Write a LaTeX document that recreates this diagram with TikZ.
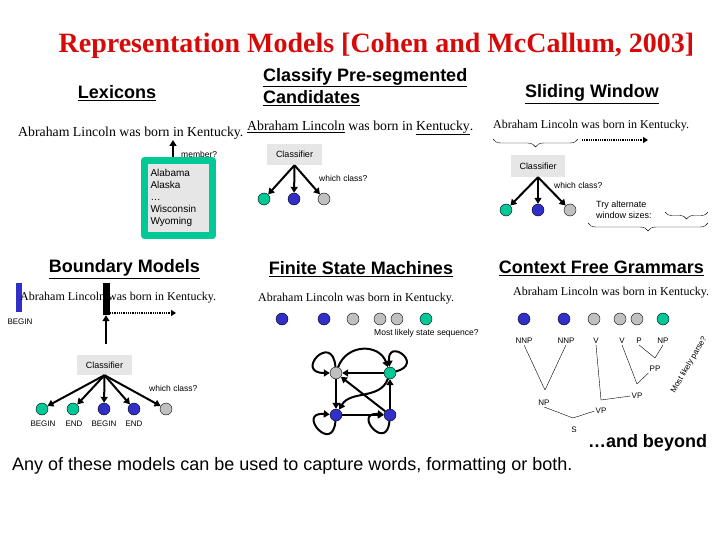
\documentclass[tikz,border=0pt]{standalone}
\usepackage{fontspec}
\setmainfont{Liberation Serif}
\setsansfont{Liberation Sans}
\usetikzlibrary{arrows.meta,decorations.pathreplacing}
\definecolor{tgreen}{RGB}{0,200,150}
\definecolor{tblue}{RGB}{48,48,200}
\definecolor{tgray}{RGB}{192,192,192}
\definecolor{boxgray}{RGB}{230,230,230}
\definecolor{titlered}{RGB}{215,10,10}
\tikzset{
  ttl/.style={font=\bfseries\fontsize{28}{30}\selectfont, text=titlered, inner sep=0pt},
  hd/.style={font=\sffamily\bfseries\fontsize{18}{22}\selectfont, inner sep=0pt},
  sent/.style={font=\fontsize{12}{14}\selectfont, inner sep=0pt, anchor=west},
  sentbig/.style={font=\fontsize{13.8}{16}\selectfont, inner sep=0pt, anchor=west},
  lbl/.style={font=\sffamily\fontsize{8.5}{10}\selectfont, inner sep=1pt},
  cbox/.style={fill=boxgray, minimum width=55pt, minimum height=21pt, inner sep=0pt, font=\sffamily\fontsize{9}{10}\selectfont},
  dot/.style={circle, draw, thin, minimum size=12pt, inner sep=0pt},
  arr/.style={-{Triangle[length=6pt,width=7pt]}, line width=2pt},
  dotarr/.style={-{Triangle[length=5pt,width=6pt]}, line width=1.5pt, dash pattern=on 1pt off 0.8pt},
  brc/.style={decorate, decoration={brace, mirror, amplitude=8pt}, thin},
  tree/.style={thin}
}
\begin{document}
\begin{tikzpicture}[x=1pt,y=-1pt,line join=round]
\useasboundingbox[fill=white] (0,0) rectangle (720,540);
\node[ttl] (title) at (376.5,46) {Representation Models [Cohen and McCallum, 2003]};

\node[hd] (lexhd) at (117,93) {\underline{Lexicons}};
\node[sentbig] (lexs) at (18,133) {Abraham Lincoln was born in Kentucky.};
\node[draw=tgreen, line width=7pt, fill=boxgray, text width=56pt, inner sep=6pt, minimum height=75pt, align=left, font=\sffamily\fontsize{10}{11.8}\selectfont] (lexlist) at (178.5,198) {Alabama\\Alaska\\\ldots\\Wisconsin\\Wyoming};
\coordinate (memtip) at (173,140);
\draw[arr] (lexlist.north -| memtip) -- (memtip);
\node[lbl, anchor=west] (member) at (180,154) {member?};

\node[hd, anchor=west, align=left] (clshd) at (263,87) {\underline{Classify Pre-segmented}\\\underline{Candidates}};
\node[sentbig] (clss) at (247,128) {\underline{Abraham Lincoln} was born in \underline{Kentucky}.};
\node[cbox] (clsc) at (294.5,154.5) {Classifier};
\node[dot, fill=tgreen] (clsg) at (264,199) {};
\node[dot, fill=tblue] (clsb) at (294,199) {};
\node[dot, fill=tgray] (clsy) at (324,199) {};
\foreach \n in {clsg,clsb,clsy} \draw[arr] (clsc.south) -- (\n);
\node[lbl, anchor=west] (clsq) at (318,178) {which class?};

\node[hd] (swhd) at (592,94) {\underline{Sliding Window}};
\node[sent] (sws) at (493,126) {Abraham Lincoln was born in Kentucky.};
\draw[brc] (493,139) -- (578,139);
\coordinate (swa) at (582,140);
\coordinate (swb) at (648,140);
\draw[dotarr] (swa) -- (swb);
\node[cbox, minimum width=54pt, minimum height=22pt] (swc) at (538,166) {Classifier};
\node[dot, fill=tgreen] (swg) at (506,210) {};
\node[dot, fill=tblue] (swb) at (538,210) {};
\node[dot, fill=tgray] (swy) at (570,210) {};
\foreach \n in {swg,swb,swy} \draw[arr] (swc.south) -- (\n);
\node[lbl, anchor=west] (swq) at (553,185) {which class?};
\node[lbl, anchor=west, align=left, font=\sffamily\fontsize{9}{11}\selectfont] (swtry) at (595,210) {Try alternate\\window sizes:};
\draw[brc, decoration={amplitude=7pt}] (665,212) -- (708,212);
\draw[brc] (588,223) -- (708,223);

\node[hd] (bdhd) at (124.5,269) {\underline{Boundary Models}};
\node[fill=tblue, minimum width=6pt, minimum height=29pt, inner sep=0pt] (bdbar) at (18.5,297.5) {};
\node[lbl, font=\sffamily\fontsize{8}{9}\selectfont] (bdbeg) at (20,322) {BEGIN};
\node[sent] (bds) at (20,298) {Abraham Lincoln was born in Kentucky.};
\node[fill=black, minimum width=7pt, minimum height=32pt, inner sep=0pt] (bdblk) at (106,299) {};
\coordinate (bdtail) at (106,344);
\draw[arr, line width=2.5pt] (bdtail) -- (bdblk.south);
\coordinate (bda) at (110,313);
\coordinate (bdb) at (176,313);
\draw[dotarr] (bda) -- (bdb);
\node[cbox, minimum height=20pt] (bdc) at (104.5,365) {Classifier};
\foreach \x/\c [count=\i] in {42/tgreen,73/tgreen,104/tblue,134/tblue,166/tgray}
  \node[dot, fill=\c] (bd\i) at (\x,409) {};
\foreach \i in {1,...,5} \draw[arr] (bdc.south) -- (bd\i);
\foreach \x/\t in {43/BEGIN,74/END,104/BEGIN,134/END}
  \node[lbl, font=\sffamily\fontsize{8}{9}\selectfont] at (\x,424) {\t};
\node[lbl, anchor=west] (bdq) at (148,388) {which class?};

\node[hd] (fsmhd) at (361,269) {\underline{Finite State Machines}};
\node[sent] (fsms) at (258,299) {Abraham Lincoln was born in Kentucky.};
\foreach \x/\c [count=\i] in {282/tblue,324/tblue,353/tgray,380/tgray,397/tgray,426/tgreen}
  \node[dot, fill=\c] (fs\i) at (\x,319) {};
\node[lbl, anchor=west] (fsmq) at (373,333) {Most likely state sequence?};
\node[dot, fill=tgray] (sgy) at (336,373) {};
\node[dot, fill=tgreen] (sg) at (390,373) {};
\node[dot, fill=tblue] (sbl) at (336,415) {};
\node[dot, fill=tblue] (sbr) at (390,415) {};
\draw[arr] (sg) -- (sgy);
\draw[arr] (sgy) -- (sbl);
\draw[arr] (sbl) -- (sbr);
\draw[arr] (sbr) -- (sg);
\draw[arr] (sbr) -- (sgy);
\draw[arr] (sgy) to[out=70,in=110,looseness=1.3] (sg);
\draw[arr] (sg) to[out=-110,in=60] (sbl);
\draw[arr] (sgy) to[out=95,in=180,distance=36pt] (sgy);
\draw[arr] (sg) to[out=15,in=95,distance=30pt] (sg);
\draw[arr] (sbl) to[out=-95,in=175,distance=34pt] (sbl);
\draw[arr] (sbr) to[out=-95,in=175,distance=32pt] (sbr);

\node[hd] (cfghd) at (601.5,268) {\underline{Context Free Grammars}};
\node[sent] (cfgs) at (513,293) {Abraham Lincoln was born in Kentucky.};
\foreach \x/\c [count=\i] in {524/tblue,564/tblue,594/tgray,620/tgray,637/tgray,663/tgreen}
  \node[dot, fill=\c] (cf\i) at (\x,319) {};
\tikzset{tl/.style={lbl, font=\sffamily\fontsize{8}{9}\selectfont}}
\node[tl] (nnp1) at (524,341) {NNP};
\node[tl] (nnp2) at (566,341) {NNP};
\node[tl] (v1) at (596,341) {V};
\node[tl] (v2) at (622,341) {V};
\node[tl] (p) at (639,341) {P};
\node[tl] (np1) at (663,341) {NP};
\node[tl] (pp) at (655,369) {PP};
\node[tl] (vp2) at (637,396) {VP};
\node[tl] (np2) at (544,403) {NP};
\node[tl] (vp1) at (601,411) {VP};
\node[tl] (s) at (574,430) {S};
\coordinate (npj) at (545,390);
\coordinate (ppj) at (655,358);
\coordinate (vp2j) at (637,384);
\coordinate (vp1j) at (601,400);
\coordinate (sj) at (573,418);
\draw[tree] (nnp1.south) -- (npj) -- (nnp2.south);
\draw[tree] (p.south) -- (ppj) -- (np1.south);
\draw[tree] (v2.south) -- (vp2j) -- (pp.south west);
\draw[tree] (v1.south) -- (vp1j) -- (vp2.west);
\draw[tree] (np2.south) -- (sj) -- (vp1.west);
\node[lbl, font=\sffamily\fontsize{8}{9}\selectfont, rotate=60] (cfgq) at (689,365) {Most likely parse?};

\node[hd] (beyond) at (647.5,443) {\ldots and beyond};
\node[font=\sffamily\fontsize{18}{20}\selectfont, anchor=west, inner sep=0pt] (note) at (12,466) {Any of these models can be used to capture words, formatting or both.};
\end{tikzpicture}
\end{document}
